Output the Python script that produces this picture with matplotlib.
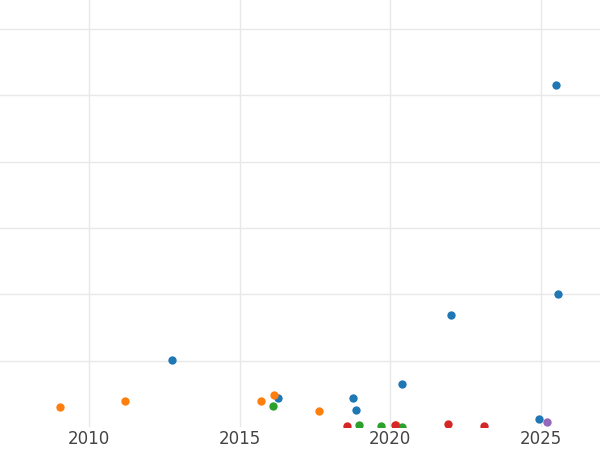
import matplotlib.pyplot as plt

blue_x = [2012.75, 2016.28, 2018.77, 2018.87, 2020.4, 2022.0, 2024.95, 2025.51, 2025.55]
blue_y = [1.01, 0.44, 0.44, 0.26, 0.65, 1.69, 0.12, 5.16, 2.0]
orange_x = [2009.03, 2011.19, 2015.71, 2016.14, 2017.64, 2020.2]
orange_y = [0.30, 0.39, 0.39, 0.48, 0.24, 0.03]
green_x = [2016.11, 2018.97, 2019.7, 2020.4]
green_y = [0.32, 0.03, 0.02, 0.0]
red_x = [2018.57, 2020.16, 2021.92, 2023.12]
red_y = [0.02, 0.03, 0.05, 0.02]
purple_x = [2025.21]
purple_y = [0.08]

fig = plt.figure(figsize=(6, 4.5), dpi=100)
ax = fig.add_axes([0, 1 - 427 / 450, 1, 427 / 450])

series = [(blue_x, blue_y, '#1f77b4'), (orange_x, orange_y, '#ff7f0e'),
          (green_x, green_y, '#2ca02c'), (red_x, red_y, '#d62728'),
          (purple_x, purple_y, '#9467bd')]
for xs, ys, c in series:
    ax.scatter(xs, ys, s=36, color=c, zorder=3, linewidths=0)

ax.set_xlim(2007.04, 2026.96)
ax.set_ylim(0, 6.44)
ax.set_xticks([2010, 2015, 2020, 2025])
ax.set_yticks([1, 2, 3, 4, 5, 6])
ax.set_yticklabels([])
ax.grid(True, color='#e8e8e8', linewidth=1)
ax.tick_params(length=0, labelsize=12, labelcolor='#444444', pad=2)
for s in ax.spines.values():
    s.set_visible(False)

fig.savefig('out.png', dpi=100)
